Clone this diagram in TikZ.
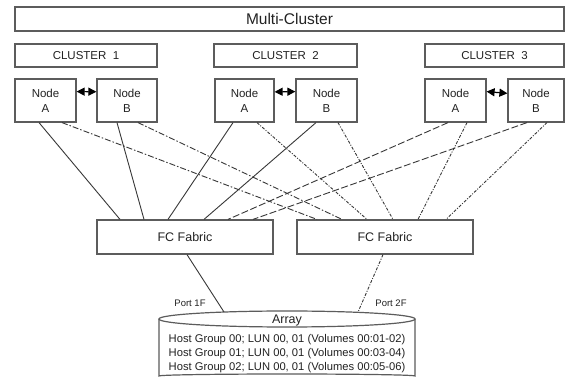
\documentclass[tikz,border=0pt]{standalone}
\usepackage{fontspec}
\setmainfont{Liberation Sans}
\usetikzlibrary{arrows.meta}
\definecolor{boxgray}{HTML}{5C5C5C}
\definecolor{linegray}{HTML}{383838}
\definecolor{txtgray}{HTML}{222222}
\begin{document}
\begin{tikzpicture}[x=1pt,y=-1pt,
  box/.style={draw=boxgray, line width=1.2pt, fill=white, inner sep=0pt, align=center, text=txtgray},
  multibox/.style={box, line width=1.6pt, font=\fontsize{15.5}{18}\selectfont},
  clbox/.style={box, minimum height=23, font=\fontsize{11.5}{13}\selectfont},
  nodebox/.style={box, minimum height=43, font=\fontsize{11.5}{15}\selectfont},
  fcbox/.style={box, minimum width=176, minimum height=34, font=\fontsize{12.5}{15}\selectfont},
  lbl/.style={inner sep=0pt, text=txtgray},
  conn/.style={draw=linegray, line width=0.9pt},
  lsolid/.style={conn},
  llong/.style={conn, dash pattern=on 7pt off 2.5pt},
  ldashdot/.style={conn, dash pattern=on 6pt off 2pt on 1.5pt off 2pt},
  ldense/.style={conn, dash pattern=on 3pt off 1.5pt on 1pt off 1.5pt},
  pairarrow/.style={draw=black, line width=1.2pt, {Triangle[length=8pt,width=8pt]}-{Triangle[length=8pt,width=8pt]}}
]
\useasboundingbox[fill=white] (0,0) rectangle (565,379);

% top boxes
\node[multibox, minimum width=549, minimum height=24] (multi) at (289.5,19) {Multi-Cluster};
\node[clbox, minimum width=142] (c1) at (86,55.5) {CLUSTER\ \ 1};
\node[clbox, minimum width=143] (c2) at (285.5,55.5) {CLUSTER\ \ 2};
\node[clbox, minimum width=139] (c3) at (494.5,55.5) {CLUSTER\ \ 3};

% node boxes
\node[nodebox, minimum width=61] (a1) at (45.5,100.5) {Node\\A};
\node[nodebox, minimum width=60] (b1) at (127,100.5) {Node\\B};
\node[nodebox, minimum width=59] (a2) at (244.5,100.5) {Node\\A};
\node[nodebox, minimum width=61] (b2) at (326.5,100.5) {Node\\B};
\node[nodebox, minimum width=61] (a3) at (455.5,100.5) {Node\\A};
\node[nodebox, minimum width=56] (b3) at (536,100.5) {Node\\B};

\draw[pairarrow] (a1.16) -- (b1.164);
\draw[pairarrow] (a2.16) -- (b2.164);
\draw[pairarrow] (a3.16) -- (b3.166);

% fabrics
\node[fcbox] (fc1) at (185,237) {FC Fabric};
\node[fcbox] (fc2) at (385,237) {FC Fabric};

% node to fabric 1
\draw[lsolid] (a1.south -| 39,0) -- (fc1.north -| 120,0);
\draw[lsolid] (b1.south -| 117,0) -- (fc1.north -| 144,0);
\draw[lsolid] (a2.south -| 233,0) -- (fc1.north -| 168,0);
\draw[lsolid] (b2.south -| 316,0) -- (fc1.north -| 204,0);
\draw[llong] (a3.south -| 448,0) -- (fc1.north -| 228,0);
\draw[llong] (b3.south -| 527,0) -- (fc1.north -| 253,0);
% node to fabric 2
\draw[ldashdot] (a1.south -| 62,0) -- (fc2.north -| 317,0);
\draw[ldashdot] (b1.south -| 138,0) -- (fc2.north -| 342,0);
\draw[ldense] (a2.south -| 257,0) -- (fc2.north -| 367,0);
\draw[ldense] (b2.south -| 338,0) -- (fc2.north -| 393,0);
\draw[ldense] (a3.south -| 467,0) -- (fc2.north -| 418,0);
\draw[ldense] (b3.south -| 547,0) -- (fc2.north -| 446,0);

% array cylinder
\draw[draw=boxgray, line width=1.2pt, fill=white]
  (159,319) -- (159,376) arc[start angle=180, end angle=360, x radius=128, y radius=2] -- (415,319);
\draw[draw=boxgray, line width=1.2pt] (287,319) ellipse[x radius=128, y radius=8];
\coordinate (arr1) at (224,312);
\coordinate (arr2) at (358,312);
\node[lbl, font=\fontsize{12.5}{15}\selectfont] (arrayt) at (287,320) {Array};
\node[lbl, font=\fontsize{11.2}{13}\selectfont] (hg0) at (287,339.5) {Host Group 00; LUN 00, 01 (Volumes 00:01-02)};
\node[lbl, font=\fontsize{11.2}{13}\selectfont] (hg1) at (287,353.5) {Host Group 01; LUN 00, 01 (Volumes 00:03-04)};
\node[lbl, font=\fontsize{11.2}{13}\selectfont] (hg2) at (287,367.5) {Host Group 02; LUN 00, 01 (Volumes 00:05-06)};

\draw[lsolid] (fc1.south -| 187,0) -- (arr1);
\draw[ldense] (fc2.south -| 383,0) -- (arr2);

\node[lbl, font=\fontsize{9.5}{11}\selectfont] (p1) at (190,303) {Port 1F};
\node[lbl, font=\fontsize{9.5}{11}\selectfont] (p2) at (391,303) {Port 2F};
\end{tikzpicture}
\end{document}
